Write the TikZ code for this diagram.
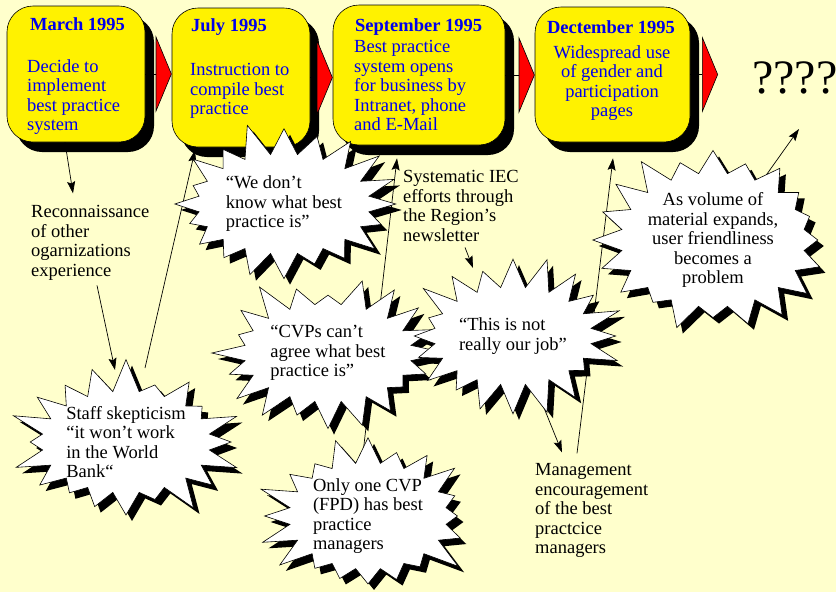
\documentclass[tikz,border=0pt]{standalone}
\usepackage{fontspec}
\setmainfont{Liberation Serif}
\usetikzlibrary{arrows.meta,calc,shadows,shapes.symbols}

\definecolor{paper}{RGB}{255,255,204}
\definecolor{datetext}{RGB}{0,0,235}

\tikzset{
  date box/.style={rectangle,rounded corners=26pt,draw,line width=0.6pt,fill=yellow,
    drop shadow={shadow xshift=9pt,shadow yshift=-10pt,fill=black,opacity=1}},
  date text/.style={text=datetext,inner sep=0pt,align=left,anchor=north west},
  note/.style={inner sep=0pt,align=left,anchor=north west},
  burst/.style={starburst,draw,line width=0.6pt,fill=white,inner sep=0pt,align=left,
    starburst points=20,starburst point height=34pt,
    drop shadow={shadow xshift=6pt,shadow yshift=-6pt,fill=black,opacity=1}},
  flow arrow/.style={draw=black,line width=0.6pt,-{Triangle[length=16pt,width=77pt,fill=red]}},
  link/.style={line width=0.7pt,-{Stealth[length=12pt,width=8pt,inset=2pt]}}
}

\begin{document}
\begin{tikzpicture}[x=1pt,y=-1pt,font=\fontsize{18.5}{19.5}\selectfont]
    \fill[paper] (0,0) rectangle (836,592);
    \useasboundingbox (0,0) rectangle (836,592);

    % the four dates
    \node[date box,minimum width=138pt,minimum height=136pt] at (76,74) (mar) {};
    \node[date box,minimum width=138pt,minimum height=139pt] at (241,77.5) (jul) {};
    \node[date box,minimum width=172pt,minimum height=140pt] at (419,75) (sep) {};
    \node[date box,minimum width=155pt,minimum height=135pt] at (612.5,74.5) (dec) {};
    \coordinate (after) at (718,74.5);

    \draw[flow arrow] (mar.east) -- (mar.east -| jul.west);
    \draw[flow arrow] (jul.east) -- (jul.east -| sep.west);
    \draw[flow arrow] (sep.east) -- (sep.east -| dec.west);
    \draw[flow arrow] (dec.east) -- (after);

    \node[date text] at (30,17.4) (mar title) {\textbf{March 1995}};
    \node[date text] at (27,59.4) (mar body) {Decide to\\implement\\best practice\\system};
    \node[date text] at (191,18.4) (jul title) {\textbf{July 1995}};
    \node[date text] at (190,63.4) (jul body) {Instruction to\\compile best\\practice};
    \node[date text] at (355,18.4) (sep title) {\textbf{September 1995}};
    \node[date text] at (354,40.4) (sep body) {Best practice\\system opens\\for business by\\Intranet, phone\\and E-Mail};
    \node[date text,anchor=north] at (611,20.4) (dec title) {\textbf{Dectember 1995}};
    \node[date text,anchor=north,align=center] at (612,45.4) (dec body) {Widespread use\\of gender and\\participation\\pages};

    \node[anchor=base west,inner sep=0pt,font=\fontsize{48}{50}\selectfont] at (752,93) (what) {????};

    % plain notes
    \node[note] at (31,205.4) (recon) {Reconnaissance\\of other\\ogarnizations\\experience};
    \node[note] at (403,170.4) (news) {Systematic IEC\\efforts through\\the Region’s\\newsletter};
    \node[note] at (535,463.4) (mgmt) {Management\\encouragement\\of the best\\practcice\\managers};

    \path[link]
        ($(mar.south)+(-11,0)$) edge ($(recon.north west)+(42,-12)$)
        ($(recon.north west)+(66,80)$) edge ($(128,442)+(-13,-72)$)
        ($(128,442)+(17,-74)$) edge ($(jul.south)+(-46,3)$)
        ($(368,518)+(-6,-56)$) edge ($(sep.south)+(-22,13)$)
        ($(news.north west)+(62,77)$) edge ($(512,337)+(-39,-69)$)
        ($(512,337)+(28,61)$) edge ($(mgmt.north west)+(27,-11)$)
        ($(mgmt.north west)+(42,-10)$) edge ($(dec.south)+(0.5,16)$)
        ($(713,240)+(44,-52)$) edge ($(what.base west)+(47,36)$)
        ;

    % the worries
    \node[burst,random starburst=11,minimum width=240pt,minimum height=168pt] at (284,204) (dunno) {“We don’t\\know what best\\practice is”};
    \node[burst,random starburst=23,minimum width=236pt,minimum height=166pt] at (328,353) (cvps) {“CVPs can’t\\agree what best\\practice is”};
    \node[burst,random starburst=37,minimum width=226pt,minimum height=166pt] at (513,336) (job) {“This is not\\really our job”};
    \node[burst,random starburst=41,minimum width=248pt,minimum height=180pt,align=center] at (713,240) (volume) {As volume of\\material expands,\\user friendliness\\becomes a\\problem};
    \node[burst,random starburst=53,minimum width=224pt,minimum height=170pt] at (126,442) (staff) {Staff skepticism\\“it won’t work\\in the World\\Bank“};
    \node[burst,random starburst=67,minimum width=226pt,minimum height=172pt] at (368,516) (only) {Only one CVP\\(FPD) has best\\practice\\managers};
\end{tikzpicture}
\end{document}
